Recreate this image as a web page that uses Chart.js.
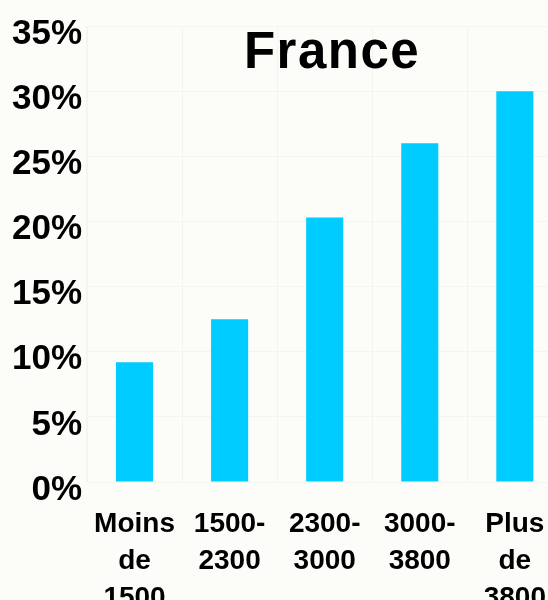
<!DOCTYPE html>
<html>
<head>
<meta charset="utf-8">
<script src="https://cdn.jsdelivr.net/npm/chart.js@4.4.1/dist/chart.umd.min.js"></script>
<style>
  html, body { margin: 0; padding: 0; background: #FCFCF8; overflow: hidden; }
  #wrap { position: relative; width: 570px; height: 600px; }
</style>
</head>
<body>
<div id="wrap"><canvas id="c"></canvas></div>
<script>
const categories = [["Moins", "de", "1500"], ["1500-", "2300"], ["2300-", "3000"], ["3000-", "3800"], ["Plus", "de", "3800"]];
const values = [9.2, 12.5, 20.3, 26.0, 30.0];
const titleText = "France";
const yMax = 35;
const yStep = 5;

const bgPlugin = {
  id: 'bg',
  beforeDraw(chart) {
    const ctx = chart.ctx;
    ctx.save();
    ctx.fillStyle = '#FCFCF8';
    ctx.fillRect(0, 0, chart.width, chart.height);
    ctx.restore();
  }
};
const titlePlugin = {
  id: 'innerTitle',
  afterDraw(chart) {
    const ctx = chart.ctx;
    ctx.save();
    ctx.font = 'bold 51px "Liberation Sans", Arial, sans-serif';
    if ('letterSpacing' in ctx) ctx.letterSpacing = '1.5px';
    ctx.fillStyle = '#000';
    ctx.textAlign = 'center';
    ctx.textBaseline = 'alphabetic';
    ctx.fillText(titleText, 332, 68);
    ctx.restore();
  }
};

new Chart(document.getElementById('c'), {
  type: 'bar',
  data: {
    labels: categories,
    datasets: [{
      data: values,
      backgroundColor: '#00CCFF',
      borderWidth: 0,
      barPercentage: 0.39,
      categoryPercentage: 1.0
    }]
  },
  options: {
    responsive: true,
    maintainAspectRatio: false,
    animation: false,
    layout: { padding: { top: 26, right: 0, left: 0, bottom: 0 } },
    plugins: { legend: { display: false }, tooltip: { enabled: false }, title: { display: false } },
    scales: {
      x: {
        offset: true,
        grid: { color: '#F5F5F0', drawTicks: false, offset: true },
        border: { color: '#F5F5F0' },
        ticks: {
          color: '#000',
          padding: 24,
          maxRotation: 0,
          autoSkip: false,
          font: { family: '"Liberation Sans", Arial, sans-serif', size: 28, weight: 'bold', lineHeight: 1.32 }
        },
        afterFit(scale) { scale.height = 118; }
      },
      y: {
        min: 0,
        max: yMax,
        grid: { color: '#F5F5F0', drawTicks: false },
        border: { color: '#F5F5F0' },
        ticks: {
          stepSize: yStep,
          color: '#000',
          padding: 5,
          labelOffset: 8,
          font: { family: '"Liberation Sans", Arial, sans-serif', size: 35, weight: 'bold' },
          callback: v => v + '%'
        },
        afterFit(scale) { scale.width = 87; }
      }
    }
  },
  plugins: [bgPlugin, titlePlugin]
});
</script>
</body>
</html>
